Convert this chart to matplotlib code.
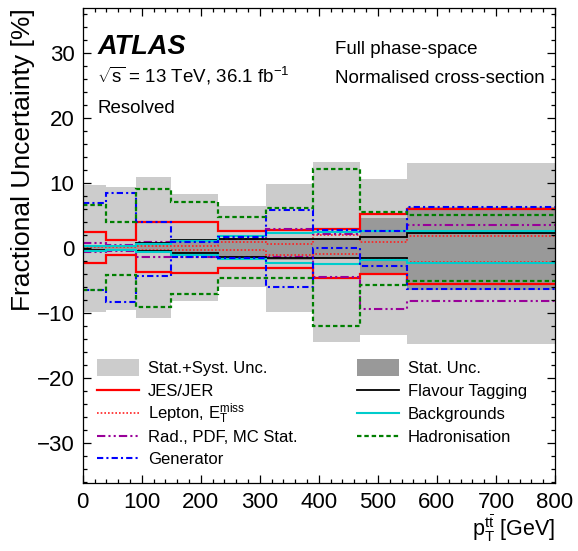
import matplotlib
matplotlib.use("Agg")
import matplotlib.pyplot as plt
from matplotlib.patches import Rectangle
from matplotlib.lines import Line2D
from matplotlib.ticker import MultipleLocator

plt.rcParams['font.family'] = ['Liberation Sans', 'DejaVu Sans']
plt.rcParams['mathtext.fontset'] = 'custom'
plt.rcParams['mathtext.rm'] = 'Liberation Sans'
plt.rcParams['mathtext.it'] = 'Liberation Sans:italic'
plt.rcParams['mathtext.bf'] = 'Liberation Sans:bold'

# pT(ttbar) bin edges [GeV]
edges = [0, 40, 90, 150, 230, 310, 390, 470, 550, 800]

# Relative uncertainties per bin [%] (up / down variations)
total_up = [9.7, 9.5, 11.0, 8.4, 6.5, 9.9, 13.3, 10.6, 13.2]
total_dn = [-9.75, -9.5, -10.8, -8.2, -6.0, -9.75, -14.4, -13.3, -14.7]
stat_up = [0.5, 0.5, 0.7, 1.1, 1.5, 1.4, 1.6, 4.6, 6.4]
stat_dn = [-0.5, -0.5, -0.7, -1.1, -1.3, -1.8, -1.45, -3.8, -6.4]
jes_up = [2.5, 1.3, 4.0, 4.0, 2.7, 2.8, 3.0, 5.25, 6.0]
jes_dn = [-2.3, -1.0, -3.7, -3.75, -3.1, -3.1, -4.6, -4.0, -5.5]
lep_up = [0.2, 0.2, 0.3, 0.4, 1.0, 0.6, 2.0, 1.0, 1.9]
lep_dn = [-0.2, -0.2, -0.3, -0.2, -0.2, -1.0, -0.9, -1.6, -2.05]
rad_up = [0.8, 0.5, 1.0, 1.1, 1.5, 3.0, 2.2, 2.6, 3.6]
rad_dn = [-0.6, -0.5, -1.3, -1.3, -1.4, -1.3, -4.4, -9.4, -8.1]
gen_up = [6.9, 8.5, 4.1, 1.0, 1.7, 5.9, 2.8, 2.7, 6.4]
gen_dn = [-6.4, -8.3, -4.2, -1.3, -1.5, -5.9, 0.0, -2.8, -6.3]
flav_up = [0.3, 0.3, 0.8, 1.2, 1.5, 1.4, 1.4, 1.8, 2.4]
flav_dn = [-0.3, -0.3, -0.5, -0.7, -1.4, -1.5, -1.45, -1.5, -2.2]
bkg_up = [0.4, 0.3, 0.6, 1.1, 1.9, 2.35, 2.55, 2.65, 2.7]
bkg_dn = [-0.4, -0.3, -0.6, -1.0, -1.7, -2.3, -2.4, -1.8, -2.3]
had_up = [6.7, 4.1, 9.2, 7.1, 4.8, 6.25, 12.15, 5.6, 5.1]
had_dn = [-6.5, -4.1, -9.0, -7.1, -4.6, -4.6, -12.05, -5.65, -5.0]

legend_labels = [
    "Stat.+Syst. Unc.", "JES/JER", r"Lepton, $\mathrm{E}_{\mathrm{T}}^{\mathrm{miss}}$",
    "Rad., PDF, MC Stat.", "Generator",
    "Stat. Unc.", "Flavour Tagging", "Backgrounds", "Hadronisation",
]

c_total = "#cccccc"
c_stat = "#999999"

styles = {
    "jes": dict(color="#ff0000", lw=1.6, ls="-"),
    "lep": dict(color="#ff2020", lw=1.2, ls=(0, (1.0, 1.2))),
    "rad": dict(color="#990099", lw=1.5, ls=(0, (4, 1.5, 1, 1.5, 1, 1.5))),
    "gen": dict(color="#0000ff", lw=1.5, ls=(0, (3, 1.5, 1, 1.5))),
    "flav": dict(color="#000000", lw=1.3, ls="-"),
    "bkg": dict(color="#00cccc", lw=1.5, ls="-"),
    "had": dict(color="#007f00", lw=1.6, ls=(0, (2.0, 1.3))),
}

fig = plt.figure(figsize=(5.78, 5.51), dpi=100)
ax = fig.add_axes([0.1431, 0.12287, 0.8171, 0.86261])

ax.stairs(total_up, edges, baseline=total_dn, fill=True, color=c_total, lw=0)
ax.stairs(stat_up, edges, baseline=stat_dn, fill=True, color=c_stat, lw=0)

series = [
    ("jes", jes_up, jes_dn),
    ("lep", lep_up, lep_dn),
    ("rad", rad_up, rad_dn),
    ("flav", flav_up, flav_dn),
    ("bkg", bkg_up, bkg_dn),
    ("gen", gen_up, gen_dn),
    ("had", had_up, had_dn),
]
for key, up, dn in series:
    st = styles[key]
    for vals in (up, dn):
        ax.stairs(vals, edges, baseline=None, color=st["color"],
                  linewidth=st["lw"], linestyle=st["ls"])

ax.set_xlim(0, 800)
ax.set_ylim(-36.2, 37.0)
ax.xaxis.set_major_locator(MultipleLocator(100))
ax.xaxis.set_minor_locator(MultipleLocator(20))
ax.yaxis.set_major_locator(MultipleLocator(10))
ax.yaxis.set_minor_locator(MultipleLocator(2))
ax.tick_params(which="both", direction="in", top=True, right=True,
               labelsize=16, width=0.9, pad=6)
ax.tick_params(which="major", length=6)
ax.tick_params(which="minor", length=3)
for sp in ax.spines.values():
    sp.set_linewidth(0.9)

ax.set_ylabel("Fractional Uncertainty [%]", fontsize=19, loc="top")
ax.yaxis.set_label_coords(-0.101, 1.0)
ax.set_xlabel(r"$\mathrm{p}_{\mathrm{T}}^{\mathrm{t\bar{t}}}$ [GeV]", fontsize=15.5, loc="right")
ax.xaxis.set_label_coords(1.0, -0.06)

tr = ax.transAxes
ax.text(0.031, 0.903, "ATLAS", transform=tr, fontsize=19.5, fontweight="bold",
        fontstyle="italic", va="baseline")
ax.text(0.031, 0.844, r"$\sqrt{\mathrm{s}}$ = 13 TeV, 36.1 fb$^{-1}$", transform=tr,
        fontsize=13.5, va="baseline")
ax.text(0.031, 0.780, "Resolved", transform=tr, fontsize=13.5, va="baseline")
ax.text(0.534, 0.903, "Full phase-space", transform=tr, fontsize=13.5, va="baseline")
ax.text(0.534, 0.843, "Normalised cross-section", transform=tr, fontsize=13.5,
        va="baseline")

# Legend, two columns drawn by hand so rows stay aligned
ax_bottom_px = 483.3
ax_h = 475.3
row_y = [367.5, 390.2, 412.9, 435.6, 458.3]
def yfrac(py):
    return (ax_bottom_px - py) / ax_h

col_x = [(0.0307, 0.1196, 0.1386), (0.5810, 0.6698, 0.6889)]
handles = [
    ("box", c_total), ("line", "jes"), ("line", "lep"), ("line", "rad"), ("line", "gen"),
    ("box", c_stat), ("line", "flav"), ("line", "bkg"), ("line", "had"),
]
for i, (lab, h) in enumerate(zip(legend_labels, handles)):
    col = 0 if i < 5 else 1
    row = i if i < 5 else i - 5
    x0, x1, xt = col_x[col]
    yc = yfrac(row_y[row])
    if h[0] == "box":
        hh = 17.0 / ax_h
        ax.add_patch(Rectangle((x0, yc - hh / 2), x1 - x0, hh, transform=tr,
                               facecolor=h[1], edgecolor="none", clip_on=False))
    else:
        st = styles[h[1]]
        ax.add_line(Line2D([x0, x1], [yc, yc], transform=tr, color=st["color"],
                           lw=st["lw"], ls=st["ls"], clip_on=False))
    ax.text(xt, yc - 6.0 / ax_h, lab, transform=tr, fontsize=12, va="baseline")

fig.savefig("out.png", dpi=100)
